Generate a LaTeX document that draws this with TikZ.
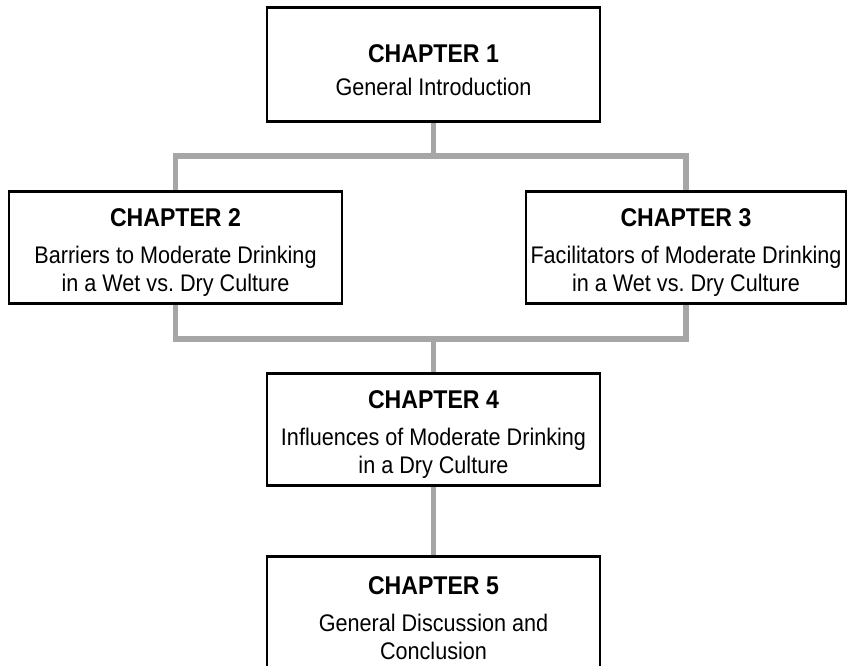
\documentclass[tikz,border=0pt]{standalone}
\usepackage{fontspec}
\setmainfont{Liberation Sans}[FakeStretch=0.9]
\usetikzlibrary{backgrounds}
\frenchspacing

\definecolor{linkgray}{RGB}{166,166,166}

\newcommand{\ChapterHead}[1]{\rule{0pt}{0.55cm}{\bfseries\fontsize{14.6pt}{16pt}\selectfont CHAPTER #1}}

\tikzset{
    chapterbox/.style={draw=black, line width=1.7pt, fill=white, align=center,
        inner sep=0pt, minimum width=6.66cm, minimum height=2.24cm,
        font=\fontsize{13.66pt}{15.93pt}\selectfont},
    link/.style={draw=linkgray, line width=3.4pt, line join=miter},
}

\begin{document}
\begin{tikzpicture}
    \useasboundingbox (0,0) rectangle (16.96,-13.32);

    \node[chapterbox, minimum height=2.28cm] (ch1) at (8.67,-1.30) {\ChapterHead{1}\\[0.1cm] General Introduction};
    \node[chapterbox] (ch2) at (3.51,-4.96) {\ChapterHead{2}\\[0.18cm] Barriers to Moderate Drinking\\ in a Wet vs. Dry Culture};
    \node[chapterbox, minimum width=6.4cm] (ch3) at (13.72,-4.96) {\ChapterHead{3}\\[0.18cm] Facilitators of Moderate Drinking\\ in a Wet vs. Dry Culture};
    \node[chapterbox] (ch4) at (8.67,-8.60) {\ChapterHead{4}\\[0.18cm] Influences of Moderate Drinking\\ in a Dry Culture};
    \node[chapterbox] (ch5) at (8.67,-12.26) {\ChapterHead{5}\\[0.18cm] General Discussion and\\ Conclusion};

    \coordinate (split) at (ch1.south |- 0,-3.12);
    \coordinate (merge) at (ch4.north |- 0,-6.78);

    \begin{scope}[on background layer]
        \draw[link] (ch1.south) -- (split);
        \draw[link] (ch2.north) |- (split) -| (ch3.north);
        \draw[link] (ch2.south) |- (merge) -| (ch3.south);
        \draw[link] (merge) -- (ch4.north);
        \draw[link] (ch4.south) -- (ch5.north);
    \end{scope}
\end{tikzpicture}
\end{document}
